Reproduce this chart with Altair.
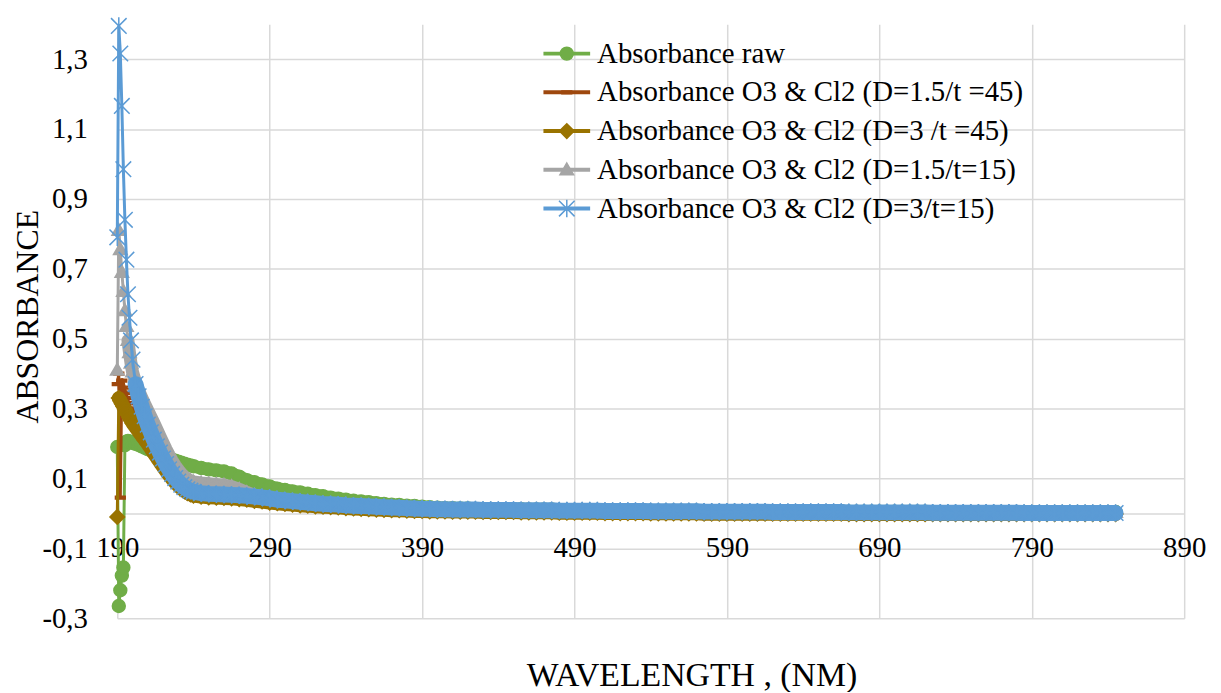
import altair as alt
import pandas as pd

SERIES = [
    "Absorbance raw",
    "Absorbance O3 & Cl2 (D=1.5/t =45)",
    "Absorbance O3 & Cl2 (D=3 /t =45)",
    "Absorbance O3 & Cl2 (D=1.5/t=15)",
    "Absorbance O3 & Cl2 (D=3/t=15)",
]
COLORS = ["#70AD47", "#9E480E", "#997300", "#A5A5A5", "#5B9BD5"]
MARKER_KEYS = ["m1", "m2", "m3", "m4", "m5"]
MARKER_SHAPES = [
    "M-0.265,0A0.265,0.265,0,1,1,0.265,0A0.265,0.265,0,1,1,-0.265,0Z",
    "M-0.2,-0.06H0.2V0.06H-0.2Z",
    "M0,-0.3L0.3,0L0,0.3L-0.3,0Z",
    "M0,-0.28L0.28,0.2L-0.28,0.2Z",
    "M-0.32,-0.32L0.32,0.32M-0.32,0.32L0.32,-0.32M0,-0.36L0,0.36",
]
# the dense markers of each series merge into a continuous band; drawn as a wide stroke
BAND_START = [195, 193, 191, 197, 201]
BAND_WIDTH = [13, 5, 14, 13, 16]

X_TICKS = [190, 290, 390, 490, 590, 690, 790, 890]
Y_TICKS = [-0.3, -0.1, 0.1, 0.3, 0.5, 0.7, 0.9, 1.1, 1.3]

# sampling grid (nm): 190-200 every 1, 202-238 every 2, 240-845 every 5
wavelength = list(range(190, 201)) + list(range(202, 240, 2)) + list(range(240, 846, 5))

raw = [
    0.19, -0.265, -0.22, -0.178, -0.155, 0.195, 0.205, 0.207, 0.206, 0.204, 0.202,
    0.199, 0.196, 0.192, 0.188, 0.184, 0.18, 0.176, 0.172, 0.168, 0.165,
    0.161, 0.158, 0.154, 0.151, 0.148, 0.145, 0.142, 0.139, 0.137,
    0.135, 0.13, 0.126, 0.123, 0.12, 0.114, 0.105, 0.095, 0.089, 0.083,
    0.077, 0.071, 0.067, 0.063, 0.06, 0.056, 0.052, 0.049, 0.045, 0.042,
    0.039, 0.036, 0.034, 0.032, 0.029, 0.027, 0.025, 0.024, 0.022, 0.021,
    0.019, 0.018,
    0.016, 0.015, 0.015, 0.014, 0.014, 0.013, 0.013, 0.013, 0.012, 0.012,
    0.012, 0.012, 0.011, 0.011, 0.011, 0.011, 0.010, 0.010, 0.010, 0.010,
    0.010, 0.010, 0.009, 0.009, 0.009, 0.009, 0.009, 0.009, 0.008, 0.008,
    0.008, 0.008, 0.008, 0.008, 0.008, 0.007, 0.007, 0.007, 0.007, 0.007,
    0.007, 0.007, 0.007, 0.007, 0.006, 0.006, 0.006, 0.006, 0.006, 0.006,
    0.006, 0.006, 0.006, 0.006, 0.005, 0.005, 0.005, 0.005, 0.005, 0.005,
    0.005, 0.005, 0.005, 0.005, 0.005, 0.004, 0.004, 0.004, 0.004, 0.004,
    0.004, 0.004, 0.004, 0.004, 0.004, 0.004, 0.004, 0.004, 0.004, 0.004,
    0.004, 0.004, 0.004, 0.004, 0.004, 0.004, 0.004, 0.004, 0.004, 0.004,
]

d15_t45 = [
    0.37, 0.40, 0.045, 0.38, 0.36, 0.345, 0.33, 0.315, 0.30, 0.29, 0.28,
    0.268, 0.255, 0.241, 0.227, 0.213, 0.199, 0.185, 0.171, 0.157, 0.143,
    0.13, 0.117, 0.105, 0.094, 0.084, 0.076, 0.069, 0.063, 0.059,
    0.055, 0.051, 0.049, 0.048, 0.047, 0.046, 0.044, 0.042, 0.039, 0.037,
    0.034, 0.032, 0.03, 0.028, 0.026, 0.025, 0.023, 0.022, 0.021, 0.02,
    0.018, 0.017, 0.016, 0.015, 0.014, 0.013, 0.012, 0.012, 0.011, 0.01,
    0.01, 0.009,
    0.008, 0.008, 0.007, 0.007, 0.007, 0.007, 0.006, 0.006, 0.006, 0.006,
    0.006, 0.005, 0.005, 0.005, 0.005, 0.005, 0.004, 0.004, 0.004, 0.004,
    0.004, 0.004, 0.003, 0.003, 0.003, 0.003, 0.003, 0.003, 0.002, 0.002,
    0.002, 0.002, 0.002, 0.002, 0.002, 0.001, 0.001, 0.001, 0.001, 0.001,
    0.001, 0.001, 0.001, 0.001, 0.001, 0.001, 0.001, 0.001, 0.001, 0.001,
    0.001, 0.001, 0.001, 0.001, 0.000, 0.000, 0.000, 0.000, 0.000, 0.000,
    0.000, 0.000, 0.000, 0.000, 0.000, 0.000, 0.000, 0.000, 0.000, 0.000,
    0.000, 0.000, 0.000, 0.000, 0.000, 0.000, 0.000, 0.000, 0.000, 0.000,
    0.000, 0.000, 0.000, 0.000, 0.000, 0.000, 0.000, 0.000, 0.000, 0.000,
]

d3_t45 = [
    -0.01, 0.33, 0.322, 0.314, 0.306, 0.298, 0.29, 0.282, 0.274, 0.266, 0.258,
    0.246, 0.234, 0.222, 0.21, 0.198, 0.185, 0.172, 0.159, 0.146, 0.133,
    0.121, 0.109, 0.098, 0.088, 0.079, 0.071, 0.064, 0.058, 0.054,
    0.051, 0.048, 0.046, 0.045, 0.044, 0.043, 0.041, 0.039, 0.036, 0.034,
    0.031, 0.029, 0.027, 0.025, 0.023, 0.022, 0.02, 0.019, 0.018, 0.017,
    0.015, 0.014, 0.013, 0.012, 0.011, 0.01, 0.009, 0.009, 0.008, 0.007,
    0.007, 0.006,
    0.006, 0.006, 0.005, 0.005, 0.005, 0.005, 0.004, 0.004, 0.004, 0.004,
    0.004, 0.003, 0.003, 0.003, 0.003, 0.003, 0.002, 0.002, 0.002, 0.002,
    0.002, 0.002, 0.001, 0.001, 0.001, 0.001, 0.001, 0.001, 0.000, 0.000,
    0.000, 0.000, 0.000, 0.000, 0.000, -0.001, -0.001, -0.001, -0.001, -0.001,
    -0.001, -0.001, -0.001, -0.001, -0.001, -0.001, -0.001, -0.001, -0.001, -0.001,
    -0.001, -0.001, -0.001, -0.001, -0.002, -0.002, -0.002, -0.002, -0.002, -0.002,
    -0.002, -0.002, -0.002, -0.002, -0.002, -0.002, -0.002, -0.002, -0.002, -0.002,
    -0.002, -0.002, -0.002, -0.002, -0.002, -0.002, -0.002, -0.002, -0.002, -0.002,
    -0.002, -0.002, -0.002, -0.002, -0.002, -0.002, -0.002, -0.002, -0.002, -0.002,
]

d15_t15 = [
    0.41, 0.81, 0.755, 0.69, 0.635, 0.58, 0.535, 0.495, 0.46, 0.43, 0.405,
    0.375, 0.352, 0.332, 0.313, 0.295, 0.277, 0.259, 0.24, 0.221, 0.202,
    0.184, 0.167, 0.151, 0.137, 0.125, 0.114, 0.105, 0.099, 0.094,
    0.09, 0.087, 0.085, 0.083, 0.081, 0.077, 0.069, 0.06, 0.052, 0.048,
    0.045, 0.041, 0.039, 0.037, 0.035, 0.033, 0.031, 0.029, 0.028, 0.027,
    0.025, 0.024, 0.023, 0.022, 0.021, 0.02, 0.019, 0.018, 0.017, 0.016,
    0.015, 0.015,
    0.014, 0.014, 0.013, 0.013, 0.013, 0.013, 0.012, 0.012, 0.012, 0.012,
    0.012, 0.011, 0.011, 0.011, 0.011, 0.011, 0.010, 0.010, 0.010, 0.010,
    0.010, 0.010, 0.009, 0.009, 0.009, 0.009, 0.009, 0.009, 0.008, 0.008,
    0.008, 0.008, 0.008, 0.008, 0.008, 0.007, 0.007, 0.007, 0.007, 0.007,
    0.007, 0.007, 0.007, 0.007, 0.006, 0.006, 0.006, 0.006, 0.006, 0.006,
    0.006, 0.006, 0.006, 0.006, 0.005, 0.005, 0.005, 0.005, 0.005, 0.005,
    0.005, 0.005, 0.005, 0.005, 0.005, 0.004, 0.004, 0.004, 0.004, 0.004,
    0.004, 0.004, 0.004, 0.004, 0.004, 0.004, 0.004, 0.003, 0.003, 0.003,
    0.003, 0.003, 0.003, 0.003, 0.003, 0.003, 0.003, 0.003, 0.003, 0.003,
]

d3_t15 = [
    0.79, 1.395, 1.316, 1.166, 0.985, 0.84, 0.726, 0.627, 0.56, 0.495, 0.44,
    0.37, 0.335, 0.305, 0.278, 0.254, 0.232, 0.211, 0.192, 0.174, 0.157,
    0.141, 0.126, 0.113, 0.101, 0.091, 0.082, 0.075, 0.069, 0.065,
    0.062, 0.058, 0.056, 0.055, 0.054, 0.053, 0.052, 0.05, 0.048, 0.046,
    0.043, 0.039, 0.037, 0.035, 0.033, 0.031, 0.029, 0.027, 0.026, 0.025,
    0.023, 0.022, 0.021, 0.02, 0.019, 0.018, 0.017, 0.016, 0.015, 0.014,
    0.013, 0.013,
    0.012, 0.012, 0.011, 0.011, 0.011, 0.011, 0.010, 0.010, 0.010, 0.010,
    0.010, 0.009, 0.009, 0.009, 0.009, 0.009, 0.008, 0.008, 0.008, 0.008,
    0.008, 0.008, 0.007, 0.007, 0.007, 0.007, 0.007, 0.007, 0.006, 0.006,
    0.006, 0.006, 0.006, 0.006, 0.006, 0.005, 0.005, 0.005, 0.005, 0.005,
    0.005, 0.005, 0.005, 0.005, 0.004, 0.004, 0.004, 0.004, 0.004, 0.004,
    0.004, 0.004, 0.004, 0.004, 0.003, 0.003, 0.003, 0.003, 0.003, 0.003,
    0.003, 0.003, 0.003, 0.003, 0.003, 0.002, 0.002, 0.002, 0.002, 0.002,
    0.002, 0.002, 0.002, 0.002, 0.002, 0.002, 0.002, 0.001, 0.001, 0.001,
    0.001, 0.001, 0.001, 0.001, 0.001, 0.001, 0.001, 0.001, 0.001, 0.001,
]

VALUES = [raw, d15_t45, d3_t45, d15_t15, d3_t15]

rows = []
for name, key, vals in zip(SERIES, MARKER_KEYS, VALUES):
    for w, v in zip(wavelength, vals):
        rows.append({"wavelength": w, "absorbance": v, "series": name, "marker": key})
df = pd.DataFrame(rows)

FONT = "Liberation Serif, Times New Roman, Times, DejaVu Serif, serif"

x_enc = alt.X(
    "wavelength:Q",
    scale=alt.Scale(domain=[190, 890], nice=False, zero=False),
    axis=alt.Axis(
        values=X_TICKS, format="d", title="WAVELENGTH , (NM)",
        grid=True, gridColor="#D9D9D9", gridWidth=1.5,
        domain=True, domainColor="#D9D9D9", domainWidth=1.5,
        ticks=False, labelFlush=False, labelOverlap=False,
        labelFont=FONT, labelFontSize=29, labelColor="black", labelPadding=20,
        offset=-105.5,
        titleFont=FONT, titleFontSize=34, titleFontWeight="normal", titleColor="black",
        titleX=578, titleY=173, titleBaseline="alphabetic",
    ),
)
y_enc = alt.Y(
    "absorbance:Q",
    scale=alt.Scale(domain=[-0.3, 1.4], nice=False, zero=False),
    axis=alt.Axis(
        values=Y_TICKS,
        labelExpr="(datum.value < 0 ? '-' : '') + replace(format(abs(datum.value), '.1f'), '.', ',')",
        title="ABSORBANCE",
        grid=True, gridColor="#D9D9D9", gridWidth=1.5,
        domain=False, ticks=False, labelFlush=False, labelOverlap=False,
        labelFont=FONT, labelFontSize=29, labelColor="black", labelPadding=30,
        titleFont=FONT, titleFontSize=32, titleFontWeight="normal", titleColor="black",
        titleX=-90, titleY=294, titleBaseline="middle",
    ),
)

LEG_X = 427
LEG_Y = 10.3
ROW_H = 38.7

line_legend = alt.Legend(
    title=None, orient="none", legendX=LEG_X, legendY=LEG_Y, padding=0,
    symbolType="stroke", symbolSize=2209, symbolStrokeWidth=4,
    labelFont=FONT, labelFontSize=29, labelColor="black", labelOffset=5,
    labelLimit=1000, rowPadding=0, clipHeight=ROW_H,
)
marker_legend = alt.Legend(
    title=None, orient="none", legendX=LEG_X, legendY=LEG_Y, padding=0,
    symbolSize=2401, symbolStrokeWidth=1.5,
    labelExpr="' '",
    labelFont=FONT, labelFontSize=29, labelColor="black", labelOffset=5,
    labelLimit=1000, rowPadding=0, clipHeight=ROW_H,
)

color_scale = alt.Scale(domain=SERIES, range=COLORS)
mcolor_scale = alt.Scale(domain=MARKER_KEYS, range=COLORS)
shape_scale = alt.Scale(domain=MARKER_KEYS, range=MARKER_SHAPES)

base = alt.Chart(df)
layers = []
for i, name in enumerate(SERIES):
    sub = base.transform_filter(alt.datum.series == name)
    band = sub.transform_filter(alt.datum.wavelength >= BAND_START[i]).mark_line(
        strokeWidth=BAND_WIDTH[i], strokeCap="round", strokeJoin="round", color=COLORS[i]
    ).encode(x=x_enc, y=y_enc)
    line = sub.mark_line(strokeWidth=3).encode(
        x=x_enc, y=y_enc,
        color=alt.Color("series:N", scale=color_scale, legend=line_legend),
    )
    pts = sub.mark_point(filled=True, size=2401, strokeWidth=1.5, opacity=1).encode(
        x=x_enc, y=y_enc,
        fill=alt.Fill("marker:N", scale=mcolor_scale, legend=marker_legend),
        stroke=alt.Stroke("marker:N", scale=mcolor_scale, legend=marker_legend),
        shape=alt.Shape("marker:N", scale=shape_scale, legend=marker_legend),
    )
    layers += [band, line, pts]

chart = alt.layer(*layers).properties(
    width=1074, height=598,
    autosize=alt.AutoSizeParams(type="none"),
    padding={"left": 110, "top": 14, "right": 29, "bottom": 72},
    background="white",
).configure_view(stroke=None)

chart.save("out.html", embed_options={"renderer": "svg", "actions": False})
